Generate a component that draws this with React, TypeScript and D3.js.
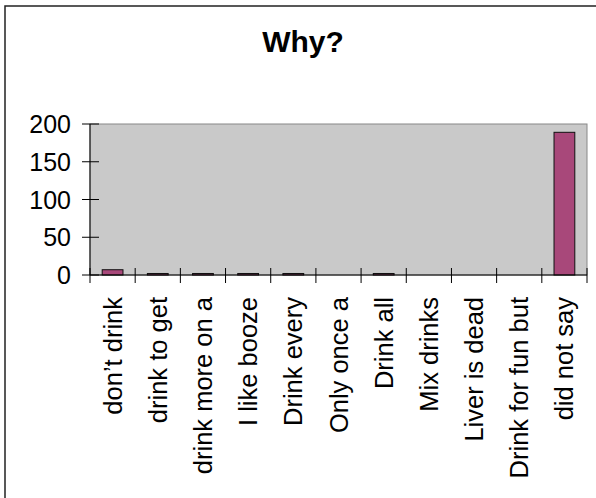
import React from "react";
import * as d3 from "d3";

const categories = [
  "don’t drink",
  "drink to get",
  "drink more on a",
  "I like booze",
  "Drink every",
  "Only once a",
  "Drink all",
  "Mix drinks",
  "Liver is dead",
  "Drink for fun but",
  "did not say",
];
const values = [7, 2, 2, 2, 2, 0, 2, 0, 0, 0, 189];
const yTicks = [0, 50, 100, 150, 200];
const title = "Why?";

const W = 596;
const H = 498;
const plot = { left: 90, right: 587, top: 124, bottom: 275 };
const font = "Arial, 'Liberation Sans', Helvetica, sans-serif";

export default function App() {
  const x = d3
    .scaleBand<string>()
    .domain(categories)
    .range([plot.left, plot.right])
    .paddingInner(0)
    .paddingOuter(0);
  const y = d3.scaleLinear().domain([0, 200]).range([plot.bottom, plot.top]);
  const barW = x.bandwidth() * 0.46;
  const boundaries = [...categories.map((c) => x(c)!), plot.right];

  return (
    <svg
      width={W}
      height={H}
      style={{ position: "absolute", left: 0, top: 0, background: "#fff" }}
    >
      <rect x={0} y={0} width={W} height={H} fill="#fff" />
      <rect
        x={5}
        y={6}
        width={W + 10}
        height={H + 10}
        fill="none"
        stroke="#222"
        strokeWidth={1.5}
      />
      <text
        x={303}
        y={52}
        textAnchor="middle"
        fontFamily={font}
        fontWeight="bold"
        fontSize={30}
        fill="#000"
      >
        {title}
      </text>
      <rect
        x={plot.left}
        y={plot.top}
        width={plot.right - plot.left}
        height={plot.bottom - plot.top}
        fill="#c9c9c9"
        stroke="#888"
        strokeWidth={1}
      />
      {categories.map((c, i) => {
        const v = values[i];
        if (v <= 0) return null;
        const cx = x(c)! + x.bandwidth() / 2;
        return (
          <rect
            key={c}
            x={cx - barW / 2}
            y={y(v)}
            width={barW}
            height={y(0) - y(v)}
            fill="#a8487a"
            stroke="#111"
            strokeWidth={1}
          />
        );
      })}
      {/* y axis */}
      <line x1={plot.left} x2={plot.left} y1={plot.top} y2={plot.bottom} stroke="#000" />
      {yTicks.map((t) => (
        <g key={t}>
          <line x1={plot.left - 8} x2={plot.left + 9} y1={y(t)} y2={y(t)} stroke="#000" />
          <text
            x={71}
            y={y(t)}
            textAnchor="end"
            dominantBaseline="central"
            fontFamily={font}
            fontSize={25}
            fill="#000"
          >
            {t}
          </text>
        </g>
      ))}
      {/* x axis */}
      <line x1={plot.left} x2={plot.right} y1={plot.bottom} y2={plot.bottom} stroke="#000" />
      {boundaries.map((bx, i) => (
        <line
          key={i}
          x1={bx}
          x2={bx}
          y1={plot.bottom - 7}
          y2={plot.bottom + 8}
          stroke="#000"
        />
      ))}
      {categories.map((c) => {
        const cx = x(c)! + x.bandwidth() / 2;
        return (
          <text
            key={c}
            transform={`translate(${cx},${plot.bottom + 22}) rotate(-90)`}
            textAnchor="end"
            dominantBaseline="central"
            fontFamily={font}
            fontSize={25.5}
            fill="#000"
          >
            {c}
          </text>
        );
      })}
    </svg>
  );
}
